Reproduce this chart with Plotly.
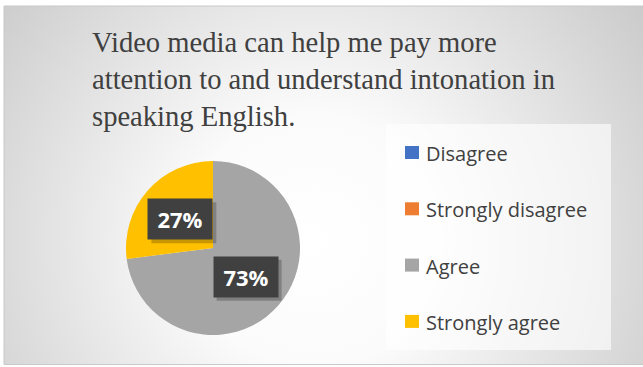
import base64
import math
import plotly.graph_objects as go

# ---- data ----
categories = ["Disagree", "Strongly disagree", "Agree", "Strongly agree"]
values = [0, 0, 73, 27]
colors = ["#4472C4", "#ED7D31", "#A5A5A5", "#FFC000"]
title_lines = [
    "Video media can help me pay more",
    "attention to and understand intonation in",
    "speaking English.",
]

W, H = 643, 367

# pie geometry (pixels)
CX, CY, R = 213, 248, 87


def px(x):
    return x / W


def py(y):
    return 1 - y / H


# radial gradient for the chart area
svg = (
    '<svg xmlns="http://www.w3.org/2000/svg" width="639" height="359">'
    '<defs><radialGradient id="g" gradientUnits="userSpaceOnUse" cx="310" cy="235" r="420">'
    '<stop offset="0" stop-color="#ffffff"/>'
    '<stop offset="0.3" stop-color="#fbfbfb"/>'
    '<stop offset="1" stop-color="#c8c8c8"/>'
    '</radialGradient></defs>'
    '<rect x="0" y="0" width="639" height="359" fill="url(#g)"/></svg>'
)
bg_src = "data:image/svg+xml;base64," + base64.b64encode(svg.encode()).decode()

fig = go.Figure()
fig.add_trace(
    go.Pie(
        labels=categories,
        values=values,
        marker=dict(colors=colors, line=dict(width=0)),
        sort=False,
        direction="clockwise",
        rotation=0,
        textinfo="none",
        showlegend=False,
        domain=dict(x=[px(CX - R), px(CX + R)], y=[py(CY + R), py(CY - R)]),
    )
)

shapes = []
annotations = []

# chart frame
shapes.append(dict(type="rect", xref="paper", yref="paper",
                   x0=px(4), x1=px(643.5), y0=py(364.5), y1=py(6),
                   line=dict(color="#c8c8c8", width=1), fillcolor="rgba(0,0,0,0)",
                   layer="below"))

# percentage labels in dark boxes, placed at the middle angle of each slice
total = sum(values)
cum = 0
BW, BH = 64, 40
for v in values:
    if v > 0:
        mid = (cum + v / 2) / total * 2 * math.pi
        lx = CX + 0.5 * R * math.sin(mid)
        ly = CY - 0.5 * R * math.cos(mid)
        shapes.append(dict(type="rect", xref="paper", yref="paper",
                           x0=px(lx - BW / 2 + 3), x1=px(lx + BW / 2 + 4),
                           y0=py(ly + BH / 2 + 4), y1=py(ly - BH / 2 + 3),
                           line=dict(width=0), fillcolor="rgba(0,0,0,0.22)",
                           layer="above"))
        annotations.append(dict(
            text=f"<b>{round(v / total * 100)}%</b>",
            xref="paper", yref="paper", x=px(lx), y=py(ly),
            xanchor="center", yanchor="middle", showarrow=False,
            width=BW - 4, height=BH - 4, borderpad=2,
            bgcolor="#404040",
            font=dict(family="Open Sans", size=22, color="#ffffff"),
        ))
    cum += v

# legend panel
shapes.append(dict(type="rect", xref="paper", yref="paper",
                   x0=px(386), x1=px(611), y0=py(350), y1=py(124),
                   line=dict(width=0), fillcolor="rgba(255,255,255,0.62)",
                   layer="below"))
LEG_Y0, LEG_DY = 152.5, 56.3
for i, (cat, col) in enumerate(zip(categories, colors)):
    yc = LEG_Y0 + i * LEG_DY
    shapes.append(dict(type="rect", xref="paper", yref="paper",
                       x0=px(405), x1=px(419), y0=py(yc + 6.5), y1=py(yc - 6.5),
                       line=dict(width=0), fillcolor=col))
    annotations.append(dict(
        text=cat, xref="paper", yref="paper", x=px(424), y=py(yc + 1),
        xanchor="left", yanchor="middle", showarrow=False,
        font=dict(family="Open Sans", size=20, color="#404040"),
    ))

# title
annotations.append(dict(
    text="<br>".join(title_lines), xref="paper", yref="paper",
    x=px(90), y=py(25), xanchor="left", yanchor="top", align="left",
    showarrow=False,
    font=dict(family="Liberation Serif", size=28.6, color="#404040"),
))

fig.update_layout(
    width=W, height=H,
    margin=dict(l=0, r=0, t=0, b=0),
    paper_bgcolor="#ffffff",
    plot_bgcolor="rgba(0,0,0,0)",
    shapes=shapes,
    annotations=annotations,
    images=[dict(source=bg_src, xref="paper", yref="paper",
                 x=px(4), y=py(6), sizex=639 / W, sizey=359 / H,
                 sizing="stretch", xanchor="left", yanchor="top", layer="below")],
)

fig.write_html("out.html")
